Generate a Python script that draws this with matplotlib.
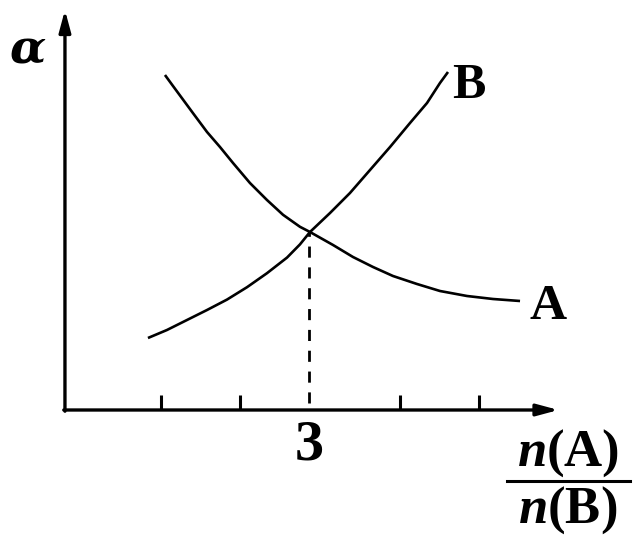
import matplotlib
matplotlib.use("Agg")
import matplotlib.pyplot as plt

# 曲线 A (随比值增大而下降)
a_x = [1.050, 1.151, 1.277, 1.403, 1.579, 1.742, 1.906, 2.119, 2.333, 2.535,
       2.748, 2.874, 3.164, 3.415, 3.667, 3.918, 4.220, 4.509, 4.849, 5.176, 5.516]
a_y = [4.1875, 4.05, 3.88, 3.71, 3.475, 3.2875, 3.0875, 2.8375, 2.625, 2.44,
       2.29, 2.225, 2.0625, 1.9125, 1.7875, 1.675, 1.575, 1.4875, 1.425, 1.3875, 1.3625]
# 曲线 B (随比值增大而上升)
b_x = [0.836, 1.075, 1.327, 1.579, 1.830, 2.082, 2.333, 2.585, 2.748, 2.874,
       3.126, 3.377, 3.629, 3.881, 4.132, 4.346, 4.509, 4.610]
b_y = [0.9, 1.0, 1.125, 1.25, 1.38, 1.535, 1.71, 1.905, 2.07, 2.225,
       2.4625, 2.7125, 3.0, 3.2875, 3.5875, 3.8375, 4.0875, 4.225]

# 横轴刻度 (无标签), 交点处标 3
tick_x = [1, 2, 4, 5]
cross_x = 2.86
cross_y = 2.225
cross_label = "3"

# 画布与像素对应: 640x547
fig = plt.figure(figsize=(6.4, 5.47), dpi=100, facecolor="white")
ax = fig.add_axes([0, 0, 1, 1])
ax.set_xlim(-1.025, 7.025)
ax.set_ylim(-1.7125, 5.125)
ax.axis("off")

plt.rcParams["mathtext.fontset"] = "custom"
plt.rcParams["mathtext.rm"] = "Liberation Serif:bold"
plt.rcParams["mathtext.it"] = "Liberation Serif:italic:bold"

x0 = -0.208
arrow = dict(arrowstyle="-|>,head_length=1.3,head_width=0.35", lw=2.4,
             color="black", shrinkA=0, shrinkB=0)
# 坐标轴
ax.annotate("", xy=(6.0, 0), xytext=(x0 - 0.015, 0), arrowprops=arrow)
ax.annotate("", xy=(x0, 5.0), xytext=(x0, -0.015), arrowprops=arrow)

# 刻度
ax.vlines(tick_x, 0, 0.19, colors="black", lw=2.2)

# 曲线
ax.plot(a_x, a_y, color="black", lw=1.9, solid_capstyle="butt", solid_joinstyle="round")
ax.plot(b_x, b_y, color="black", lw=1.9, solid_capstyle="butt", solid_joinstyle="round")

# 交点虚线
ax.plot([cross_x, cross_x], [0.09, cross_y], color="black", lw=2.0,
        linestyle=(0, (4, 3.5)))

serif = dict(family="Liberation Serif", weight="bold", color="black")
ax.text(cross_x, -0.44, cross_label, ha="center", va="center", fontsize=42, **serif)
ax.text(a_x[-1] + 0.12, 1.29, "A", ha="left", va="center", fontsize=37, **serif)
ax.text(b_x[-1] + 0.05, 4.05, "B", ha="left", va="center", fontsize=36, **serif)
ax.text(-0.686, 4.5, "α", ha="center", va="center", fontsize=34, style="italic",
        family="DejaVu Serif", weight="bold", color="black")

# 横轴名称 n(A)/n(B)
fx = 6.12
ax.text(fx, -0.5375, r"$n(\mathrm{A})$", ha="center", va="center", fontsize=38)
ax.text(fx, -1.25, r"$n(\mathrm{B})$", ha="center", va="center", fontsize=38)
ax.plot([5.352, 6.899], [-0.8875, -0.8875], color="black", lw=2.2)

fig.savefig("out.png", dpi=100, facecolor="white")
